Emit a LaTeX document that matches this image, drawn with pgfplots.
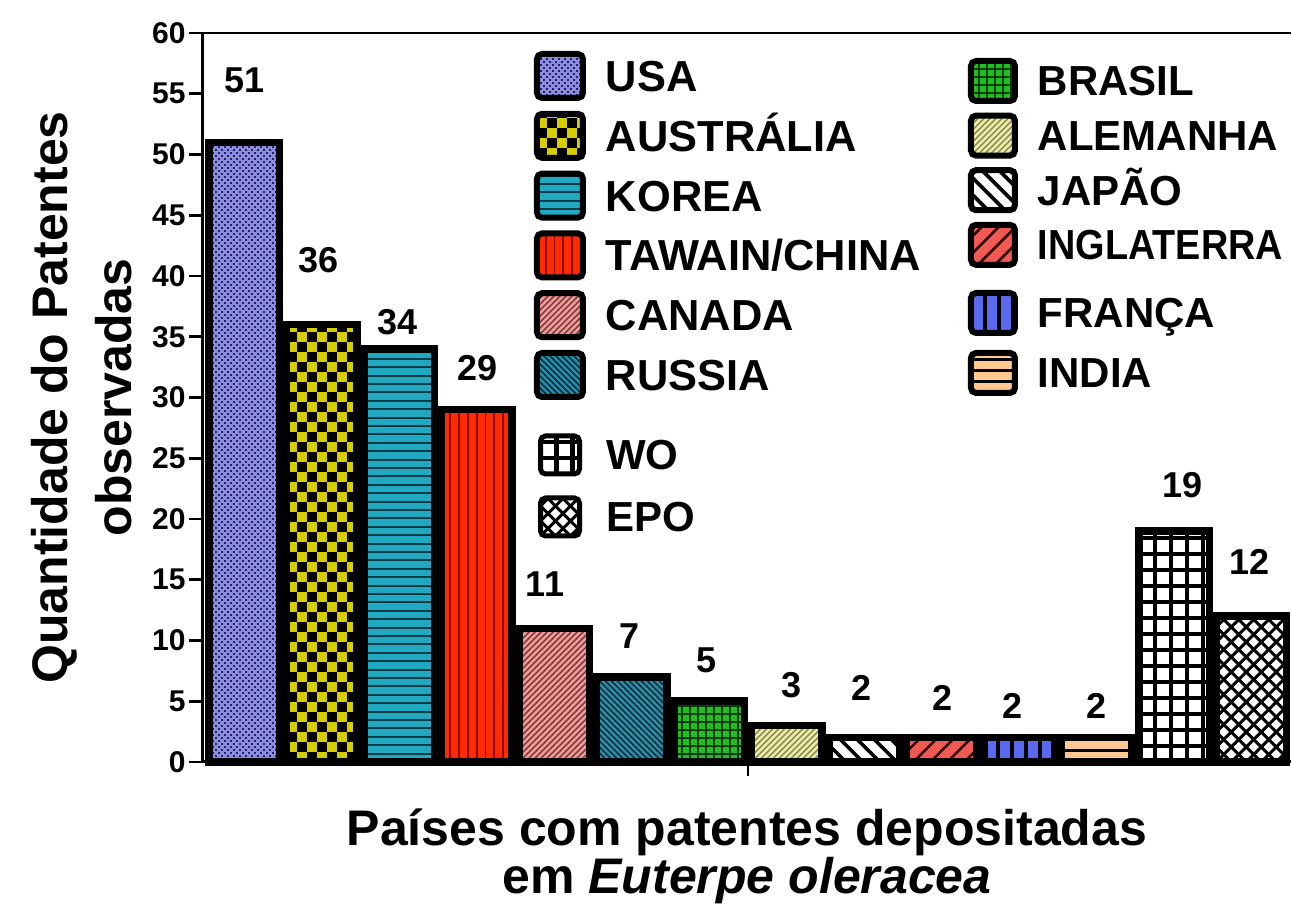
\documentclass[border=0pt]{standalone}
\usepackage{fontspec}
\setmainfont{Liberation Sans}
\usepackage{pgfplots}
\pgfplotsset{compat=1.18}

% ---------- colours ----------
\definecolor{cUSA}{HTML}{8C8CE0}\definecolor{cUSAp}{HTML}{23235F}
\definecolor{cAUS}{HTML}{D6CE00}
\definecolor{cKOR}{HTML}{22A9C2}\definecolor{cKORp}{HTML}{0B3A48}
\definecolor{cTAW}{HTML}{FF2A00}\definecolor{cTAWp}{HTML}{8A0C00}
\definecolor{cCAN}{HTML}{EE9C9A}\definecolor{cCANp}{HTML}{7A3434}
\definecolor{cRUS}{HTML}{2A8FA8}\definecolor{cRUSp}{HTML}{0A2E3C}
\definecolor{cBRA}{HTML}{22BE22}\definecolor{cBRAp}{HTML}{0A3F0A}
\definecolor{cALE}{HTML}{F0EFA8}\definecolor{cALEp}{HTML}{8C8C56}
\definecolor{cING}{HTML}{F05A52}\definecolor{cINGp}{HTML}{300808}
\definecolor{cFRA}{HTML}{5A6AF0}
\definecolor{cIND}{HTML}{FFC892}

% ---------- hatch textures (basic-layer strokes inside each bar / swatch) ----------
\newcommand\TexBegin[2]{%
 \pgfscope
 \pgftransformshift{\pgfpointanchor{path picture bounding box}{south west}}%
 \pgfsetlinewidth{#1pt}\pgfsetstrokecolor{#2}\pgfsetdash{}{0pt}\pgfsetbuttcap}
\newcommand\TexEnd{\endpgfscope}
% horizontal lines: spacing, line width, colour
\newcommand\HLines[3]{\TexBegin{#2}{#3}%
 \pgfmathtruncatemacro\nn{335/#1}%
 \foreach \k in {0,...,\nn}{\pgfpathmoveto{\pgfpoint{-3pt}{\k*#1pt}}\pgfpathlineto{\pgfpoint{50pt}{\k*#1pt}}\pgfusepath{stroke}}%
 \TexEnd}
\newcommand\VLines[3]{\TexBegin{#2}{#3}%
 \pgfmathtruncatemacro\nn{50/#1}%
 \foreach \k in {0,...,\nn}{\pgfpathmoveto{\pgfpoint{\k*#1pt}{-3pt}}\pgfpathlineto{\pgfpoint{\k*#1pt}{335pt}}\pgfusepath{stroke}}%
 \TexEnd}
\newcommand\NELines[3]{\TexBegin{#2}{#3}%
 \pgfmathtruncatemacro\nn{400/#1}%
 \foreach \k in {0,...,\nn}{\pgfpathmoveto{\pgfpoint{\k*#1pt-350pt}{-5pt}}\pgfpathlineto{\pgfpoint{\k*#1pt-5pt}{340pt}}\pgfusepath{stroke}}%
 \TexEnd}
\newcommand\NWLines[3]{\TexBegin{#2}{#3}%
 \pgfmathtruncatemacro\nn{400/#1}%
 \foreach \k in {0,...,\nn}{\pgfpathmoveto{\pgfpoint{\k*#1pt+5pt}{-5pt}}\pgfpathlineto{\pgfpoint{\k*#1pt-340pt}{340pt}}\pgfusepath{stroke}}%
 \TexEnd}
\newcommand\DotsTex{\TexBegin{1}{cUSAp}%
 \foreach \k in {0,...,224}{%
   \pgfmathsetmacro\ph{mod(\k,2)*1.5}%
   \pgfsetdash{{1pt}{2pt}}{\ph pt}%
   \pgfpathmoveto{\pgfpoint{0pt}{\k*1.5pt}}\pgfpathlineto{\pgfpoint{50pt}{\k*1.5pt}}\pgfusepath{stroke}}%
 \TexEnd}
\newcommand\CheckTex{\TexBegin{5}{black}%
 \foreach \k in {0,...,68}{%
   \pgfmathsetmacro\ph{mod(\k,2)*5}%
   \pgfsetdash{{5pt}{5pt}}{\ph pt}%
   \pgfpathmoveto{\pgfpoint{0pt}{\k*5pt+2.5pt}}\pgfpathlineto{\pgfpoint{60pt}{\k*5pt+2.5pt}}\pgfusepath{stroke}}%
 \TexEnd}

\tikzset{
 sUSA/.style={fill=cUSA, draw=black, path picture={\DotsTex}},
 sAUS/.style={fill=cAUS, draw=black, path picture={\CheckTex}},
 sKOR/.style={fill=cKOR, draw=black, path picture={\HLines{4.2}{1}{cKORp}}},
 sTAW/.style={fill=cTAW, draw=black, path picture={\VLines{4.4}{0.9}{cTAWp}}},
 sCAN/.style={fill=cCAN, draw=black, path picture={\NELines{3}{0.7}{cCANp}}},
 sRUS/.style={fill=cRUS, draw=black, path picture={\NWLines{3}{0.8}{cRUSp}}},
 sBRA/.style={fill=cBRA, draw=black, path picture={\HLines{4}{0.8}{cBRAp}\VLines{4}{0.8}{cBRAp}}},
 sALE/.style={fill=cALE, draw=black, path picture={\NELines{3}{0.8}{cALEp}}},
 sJAP/.style={fill=white, draw=black, path picture={\NWLines{8.5}{1.8}{black}}},
 sING/.style={fill=cING, draw=black, path picture={\NELines{8.5}{1.3}{cINGp}}},
 sFRA/.style={fill=cFRA, draw=black, path picture={\VLines{7}{2}{black}}},
 sIND/.style={fill=cIND, draw=black, path picture={\HLines{5.5}{1.5}{black}}},
 sWO/.style={fill=white, draw=black, path picture={\HLines{8}{2.2}{black}\VLines{8}{2.2}{black}}},
 sEPO/.style={fill=white, draw=black, path picture={\NELines{7.5}{1.5}{black}\NWLines{7.5}{1.5}{black}}},
}
\pgfplotsset{
 bbar/.style={ybar, bar width=0.91, bar shift=0pt, line width=3.75pt},
 legbase/.style={scale only axis, width=544pt, height=364.5pt, hide axis,
   xmin=0, xmax=1, ymin=0, ymax=1, legend cell align=left},
}

\begin{document}
\begin{tikzpicture}
\path[use as bounding box] (-101.5pt,-76pt) rectangle (544pt,381pt);
\begin{axis}[
 scale only axis, width=544pt, height=364.5pt,
 xmin=-0.535, xmax=13.51, ymin=0, ymax=60,
 axis x line*=bottom, axis y line*=left,
 axis line style={line width=1.5pt, -},
 ytick={0,5,...,60}, xtick={6.5}, xticklabels={},
 tick align=outside, major tick length=7pt,
 every tick/.style={black, line width=1.3pt},
 tick label style={font=\fontsize{15}{15}\selectfont\bfseries},
 /pgf/number format/assume math mode=true,
 yticklabel style={inner sep=1.5pt},
 clip=false,
 ylabel={Quantidade do Patentes\\observadas},
 ylabel style={at={(axis description cs:-0.1112,0.5)}, anchor=center, align=center,
   font=\fontsize{25}{32}\selectfont\bfseries},
 xlabel={Países com patentes depositadas\\em \textit{Euterpe oleracea}},
 xlabel style={at={(axis description cs:0.5,0)}, anchor=north, yshift=-19.7pt, align=center,
   font=\fontsize{25}{24}\selectfont\bfseries},
]
\addplot[bbar, sUSA] coordinates {(0,51)};
\addplot[bbar, sAUS] coordinates {(1,36)};
\addplot[bbar, sKOR] coordinates {(2,34)};
\addplot[bbar, sTAW] coordinates {(3,29)};
\addplot[bbar, sCAN] coordinates {(4,11)};
\addplot[bbar, sRUS] coordinates {(5,7)};
\addplot[bbar, sBRA] coordinates {(6,5)};
\addplot[bbar, sALE] coordinates {(7,3)};
\addplot[bbar, sJAP] coordinates {(8,2)};
\addplot[bbar, sING] coordinates {(9,2)};
\addplot[bbar, sFRA] coordinates {(10,2)};
\addplot[bbar, sIND] coordinates {(11,2)};
\addplot[bbar, sWO] coordinates {(12,19)};
\addplot[bbar, sEPO] coordinates {(13,12)};
\addplot[draw=none, nodes near coords, point meta=explicit symbolic,
  nodes near coords align={center},
  every node near coord/.append style={anchor=center, inner sep=0pt,
    font=\fontsize{18}{18}\selectfont\bfseries}]
  table[x=x, y=y, meta=lab] {
x y lab
0 56.1 51
0.96 41.3 36
1.98 36.2 34
3.01 32.4 29
3.88 14.6 11
4.97 10.4 7
5.97 8.4 5
7.06 6.3 3
7.97 6.1 2
9.01 5.3 2
9.92 4.6 2
11.0 4.6 2
12.11 22.8 19
12.98 16.5 12
};
\draw[line width=1.2pt] (rel axis cs:0,1) -- (rel axis cs:1,1);
\end{axis}

% left legend
\begin{axis}[legbase,
 legend image code/.code={\draw[#1, rounded corners=2.5pt] (0pt,-11pt) rectangle (23pt,11pt);},
 legend style={at={(0.3042,0.9753)}, anchor=north west, draw=none, fill=none,
   inner sep=0pt, outer sep=0pt, column sep=10pt, row sep=4.9pt,
   nodes={inner sep=0pt, text height=15.5pt, text depth=0pt,
     font=\fontsize{21.7}{21.7}\selectfont\bfseries}}]
\addlegendimage{sUSA, line width=3pt}
\addlegendimage{sAUS, line width=3pt}
\addlegendimage{sKOR, line width=3pt}
\addlegendimage{sTAW, line width=3pt}
\addlegendimage{sCAN, line width=3pt}
\addlegendimage{sRUS, line width=3pt}
\legend{USA, AUSTRÁLIA, KOREA, TAWAIN/CHINA, CANADA, RUSSIA}
\end{axis}

% right legend, first four rows
\begin{axis}[legbase,
 legend image code/.code={\draw[#1, rounded corners=2.5pt] (0pt,-10pt) rectangle (22pt,10pt);},
 legend style={at={(0.7031,0.9657)}, anchor=north west, draw=none, fill=none,
   inner sep=0pt, outer sep=0pt, column sep=10pt, row sep=4.3pt,
   nodes={inner sep=0pt, text height=15pt, text depth=0pt,
     font=\fontsize{21}{21}\selectfont\bfseries}}]
\addlegendimage{sBRA, line width=3pt}
\addlegendimage{sALE, line width=3pt}
\addlegendimage{sJAP, line width=3pt}
\addlegendimage{sING, line width=3pt}
\legend{BRASIL, ALEMANHA, JAPÃO, \scalebox{0.9}[1]{INGLATERRA}}
\end{axis}

% right legend, last two rows
\begin{axis}[legbase,
 legend image code/.code={\draw[#1, rounded corners=2.5pt] (0pt,-10pt) rectangle (22pt,10pt);},
 legend style={at={(0.7031,0.6475)}, anchor=north west, draw=none, fill=none,
   inner sep=0pt, outer sep=0pt, column sep=10pt, row sep=7pt,
   nodes={inner sep=0pt, text height=15pt, text depth=0pt,
     font=\fontsize{21}{21}\selectfont\bfseries}}]
\addlegendimage{sFRA, line width=3pt}
\addlegendimage{sIND, line width=3pt}
\legend{FRANÇA, INDIA}
\end{axis}

% WO / EPO legend
\begin{axis}[legbase,
 legend image code/.code={\draw[#1, rounded corners=2.5pt] (0pt,-9.5pt) rectangle (19.5pt,9.5pt);},
 legend style={at={(0.3079,0.4506)}, anchor=north west, draw=none, fill=none,
   inner sep=0pt, outer sep=0pt, column sep=12pt, row sep=9.5pt,
   nodes={inner sep=0pt, text height=15pt, text depth=0pt,
     font=\fontsize{21}{21}\selectfont\bfseries}}]
\addlegendimage{sWO, line width=2.5pt}
\addlegendimage{sEPO, line width=2.5pt}
\legend{WO, EPO}
\end{axis}
\end{tikzpicture}
\end{document}
